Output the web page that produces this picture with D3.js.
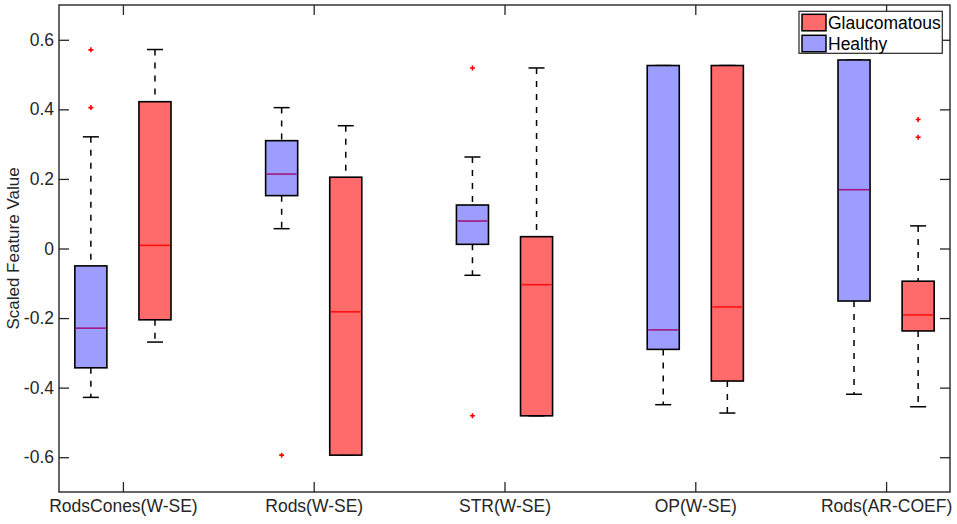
<!DOCTYPE html>
<html>
<head>
<meta charset="utf-8">
<script src="https://cdn.jsdelivr.net/npm/d3@7"></script>
<style>
  body { margin: 0; background: #fff; }
  svg { font-family: "Liberation Sans", Arial, sans-serif; }
</style>
</head>
<body>
<svg width="957" height="524"></svg>
<script>
// categories on the x axis
var categories = ["RodsCones(W-SE)", "Rods(W-SE)", "STR(W-SE)", "OP(W-SE)", "Rods(AR-COEF)"];

// box stats per category: [lower whisker, q1, median, q3, upper whisker]
var healthyStats = [
  [-0.428, -0.343, -0.229, -0.050, 0.321],
  [ 0.057,  0.152,  0.214,  0.310, 0.405],
  [-0.077,  0.012,  0.079,  0.125, 0.263],
  [-0.449, -0.290, -0.234,  0.526, 0.526],
  [-0.419, -0.151,  0.169,  0.542, 0.542]
];
var glaucomatousStats = [
  [-0.269, -0.205,  0.009,  0.422, 0.572],
  [-0.594, -0.594, -0.182,  0.205, 0.353],
  [-0.481, -0.481, -0.104,  0.034, 0.519],
  [-0.473, -0.381, -0.168,  0.526, 0.526],
  [-0.455, -0.237, -0.191, -0.094, 0.065]
];

// outliers per category
var healthyOutliers = [[0.571, 0.405], [-0.594], [0.519, -0.481], [], []];
var glaucomatousOutliers = [[], [], [], [], [0.371, 0.320]];

var yTicks = [-0.6, -0.4, -0.2, 0, 0.2, 0.4, 0.6];

var svg = d3.select("svg");

var margin = {top: 5, right: 7, bottom: 32, left: 59};
var width = 957 - margin.left - margin.right;
var height = 524 - margin.top - margin.bottom;

var plot = svg.append("g")
  .attr("transform", "translate(" + margin.left + "," + margin.top + ")");

// x positions are 1..5, boxes sit either side of the tick
var x = d3.scaleLinear().domain([0.665, 5.335]).range([0, width]);
var y = d3.scaleLinear().domain([-0.7, 0.7]).range([height, 0]);

var offset = 0.168;
var boxW = x(0.168) - x(0);
var capW = boxW / 2;

var groups = [
  {name: "Healthy", stats: healthyStats, outliers: healthyOutliers, shift: -offset,
   fill: "#9d9dff", median: "#a0177f"},
  {name: "Glaucomatous", stats: glaucomatousStats, outliers: glaucomatousOutliers, shift: offset,
   fill: "#ff6b6b", median: "#ff1010"}
];

groups.forEach(function(g) {
  var boxes = plot.append("g").selectAll("g")
    .data(g.stats)
    .enter()
    .append("g")
    .attr("transform", function(d, i) { return "translate(" + x(i + 1 + g.shift) + ",0)"; });

  // whiskers (dashed)
  boxes.append("line")
    .attr("y1", function(d) { return y(d[4]); })
    .attr("y2", function(d) { return y(d[3]); })
    .attr("stroke", "#000").attr("stroke-width", 1.5)
    .attr("stroke-dasharray", "6,7");
  boxes.append("line")
    .attr("y1", function(d) { return y(d[1]); })
    .attr("y2", function(d) { return y(d[0]); })
    .attr("stroke", "#000").attr("stroke-width", 1.5)
    .attr("stroke-dasharray", "6,7");

  // caps
  boxes.append("line")
    .attr("x1", -capW / 2).attr("x2", capW / 2)
    .attr("y1", function(d) { return y(d[4]); })
    .attr("y2", function(d) { return y(d[4]); })
    .attr("stroke", "#000").attr("stroke-width", 1.5);
  boxes.append("line")
    .attr("x1", -capW / 2).attr("x2", capW / 2)
    .attr("y1", function(d) { return y(d[0]); })
    .attr("y2", function(d) { return y(d[0]); })
    .attr("stroke", "#000").attr("stroke-width", 1.5);

  // the box itself
  boxes.append("rect")
    .attr("x", -boxW / 2)
    .attr("width", boxW)
    .attr("y", function(d) { return y(d[3]); })
    .attr("height", function(d) { return y(d[1]) - y(d[3]); })
    .attr("fill", g.fill)
    .attr("stroke", "#000").attr("stroke-width", 1.6);

  // median
  boxes.append("line")
    .attr("x1", -boxW / 2 + 1).attr("x2", boxW / 2 - 1)
    .attr("y1", function(d) { return y(d[2]); })
    .attr("y2", function(d) { return y(d[2]); })
    .attr("stroke", g.median).attr("stroke-width", 1.6);

  // outliers as little red crosses
  boxes.selectAll("path.outlier")
    .data(function(d, i) { return g.outliers[i]; })
    .enter()
    .append("path")
    .attr("class", "outlier")
    .attr("d", "M-2.5,0H2.5M0,-2.5V2.5")
    .attr("transform", function(v) { return "translate(0," + y(v) + ")"; })
    .attr("stroke", "#ff0000").attr("stroke-width", 1.6);
});

// axes with inward ticks on all four sides
var fmt = function(d) { return d === 0 ? "0" : d.toFixed(1); };

var yAxis = d3.axisLeft(y).tickValues(yTicks).tickFormat(fmt)
  .tickSizeInner(-10).tickSizeOuter(0).tickPadding(5);
var yAxisRight = d3.axisRight(y).tickValues(yTicks).tickFormat("")
  .tickSizeInner(-10).tickSizeOuter(0);
var xAxis = d3.axisBottom(x).tickValues([1, 2, 3, 4, 5])
  .tickFormat(function(d) { return categories[d - 1]; })
  .tickSizeInner(-10).tickSizeOuter(0).tickPadding(8);
var xAxisTop = d3.axisTop(x).tickValues([1, 2, 3, 4, 5]).tickFormat("")
  .tickSizeInner(-10).tickSizeOuter(0);

var axes = [
  plot.append("g").call(yAxis),
  plot.append("g").attr("transform", "translate(" + width + ",0)").call(yAxisRight),
  plot.append("g").attr("transform", "translate(0," + height + ")").call(xAxis),
  plot.append("g").call(xAxisTop)
];
axes.forEach(function(a) {
  a.select(".domain").remove();
  a.selectAll("line").attr("stroke", "#262626").attr("stroke-width", 1.3);
  a.selectAll("text")
    .attr("fill", "#262626")
    .style("font-size", "17.5px")
    .style("font-family", "'Liberation Sans', Arial, sans-serif");
});

// frame
plot.append("rect")
  .attr("width", width).attr("height", height)
  .attr("fill", "none")
  .attr("stroke", "#262626").attr("stroke-width", 1.4);

// y axis title
svg.append("text")
  .attr("transform", "translate(18.5," + (margin.top + height / 2) + ") rotate(-90)")
  .style("text-anchor", "middle")
  .style("font-size", "17px")
  .attr("fill", "#262626")
  .text("Scaled Feature Value");

// legend
var legend = svg.append("g").attr("transform", "translate(799,11.3)");
legend.append("rect")
  .attr("width", 143.3).attr("height", 42)
  .attr("fill", "#fff").attr("stroke", "#262626").attr("stroke-width", 1.2);

var legendItems = [groups[1], groups[0]];
legendItems.forEach(function(g, i) {
  legend.append("rect")
    .attr("x", 3).attr("y", 3 + i * 21)
    .attr("width", 24).attr("height", 16.5)
    .attr("fill", g.fill)
    .attr("stroke", "#000").attr("stroke-width", 1.5);
  legend.append("text")
    .attr("x", 29).attr("y", 18 + i * 20.3)
    .style("font-size", "17.5px")
    .attr("fill", "#000")
    .text(g.name);
});
</script>
</body>
</html>
